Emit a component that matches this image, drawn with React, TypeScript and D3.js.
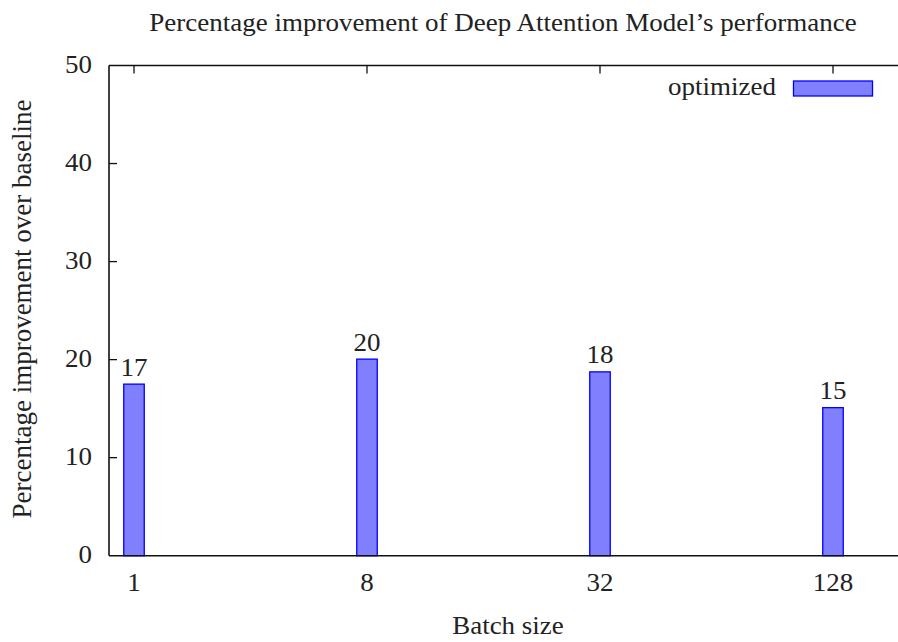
import React from 'react';
import { scaleLinear, scalePoint } from 'd3';

const batchSizes = ['1', '8', '32', '128'];
const improvement = [17.5, 20.05, 18.75, 15.1];
const valueLabels = ['17', '20', '18', '15'];
const yTicks = [0, 10, 20, 30, 40, 50];

const width = 898;
const height = 642;
const margin = { top: 65.5, bottom: 86.3, left: 109 };
const font = 'Liberation Serif, serif';

const innerBottom = height - margin.bottom;

// text in the picture is a bit flattened, so squash it slightly
function Label({ x, y, size = 27, sy = 0.9, anchor = 'middle', children }: any) {
  return (
    <text
      transform={`translate(${x},${y}) scale(1,${sy})`}
      fontSize={size}
      textAnchor={anchor}
    >
      {children}
    </text>
  );
}

function App() {
  const yScale = scaleLinear().domain([0, 50]).range([innerBottom, margin.top]);
  const xScale = scalePoint().domain(batchSizes).range([134, 833]);
  const barWidth = 20.5;

  return (
    <svg
      width={width}
      height={height}
      style={{ position: 'absolute', left: 0, top: 0, background: '#fff', fontFamily: font }}
      fill="#222"
    >
      <Label x={503} y={31}>
        Percentage improvement of Deep Attention Model’s performance
      </Label>

      {/* bars */}
      {batchSizes.map((b, i) => {
        const x = xScale(b)!;
        const y = yScale(improvement[i]);
        return (
          <g key={b}>
            <rect
              x={x - barWidth / 2}
              y={y}
              width={barWidth}
              height={innerBottom - y}
              fill="#8080ff"
              stroke="#0000ff"
              strokeWidth={1.3}
            />
            <Label x={x} y={y - 8.5}>
              {valueLabels[i]}
            </Label>
          </g>
        );
      })}

      {/* frame */}
      <g stroke="#111" strokeWidth={1.6} fill="none">
        <line x1={margin.left} x2={width} y1={margin.top} y2={margin.top} />
        <line x1={margin.left} x2={width} y1={innerBottom} y2={innerBottom} />
        <line x1={margin.left} x2={margin.left} y1={margin.top} y2={innerBottom} />
      </g>

      {/* y ticks */}
      {yTicks.map(t => (
        <g key={t}>
          {t > 0 && t < 50 && (
            <line
              x1={margin.left}
              x2={margin.left + 8}
              y1={yScale(t)}
              y2={yScale(t)}
              stroke="#111"
              strokeWidth={1.3}
            />
          )}
          <Label x={92} y={yScale(t) + 7} anchor="end">
            {t}
          </Label>
        </g>
      ))}

      {/* x ticks */}
      {batchSizes.map(b => (
        <g key={b}>
          <line
            x1={xScale(b)}
            x2={xScale(b)}
            y1={margin.top}
            y2={margin.top + 8}
            stroke="#111"
            strokeWidth={1.3}
          />
          <Label x={xScale(b)} y={591}>
            {b}
          </Label>
        </g>
      ))}

      <Label x={508} y={634}>
        Batch size
      </Label>
      <text
        transform={`translate(31, 309) rotate(-90)`}
        textAnchor="middle"
        fontSize={27}
      >
        Percentage improvement over baseline
      </text>

      {/* legend */}
      <Label x={776} y={95} anchor="end">
        optimized
      </Label>
      <rect
        x={793.5}
        y={81}
        width={79}
        height={15}
        fill="#8080ff"
        stroke="#0000ff"
        strokeWidth={1.3}
      />
    </svg>
  );
}

export default App;
